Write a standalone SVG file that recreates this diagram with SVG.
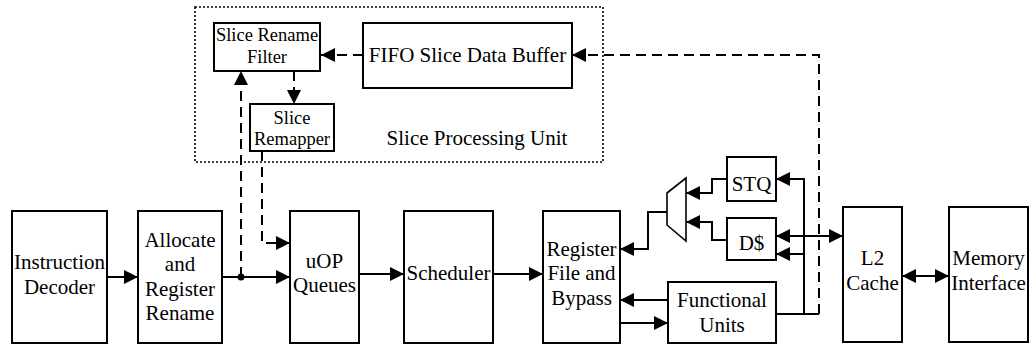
<svg xmlns="http://www.w3.org/2000/svg" width="1029" height="345" viewBox="0 0 1029 345">
<style>
  .box{fill:#fff;stroke:#000;stroke-width:2}
  .t{font-family:"Liberation Serif","Times New Roman",serif;font-size:21px;fill:#000;text-anchor:middle}
  .ts{font-size:18.5px}
  .c{fill:none;stroke:#000;stroke-width:2}
  .d{fill:none;stroke:#000;stroke-width:2;stroke-dasharray:10,6}
</style>
<defs>
  <marker id="ah" markerUnits="userSpaceOnUse" markerWidth="15" markerHeight="14" refX="14" refY="7" orient="auto-start-reverse" viewBox="0 0 15 14">
    <path d="M0,0 L14,7 L0,14 z" fill="#000"/>
  </marker>
</defs>
<g id="spu">
  <rect x="195" y="7" width="408" height="155" fill="none" stroke="#000" stroke-width="1.6" stroke-dasharray="2,2"/>
  <text class="t" x="477" y="145">Slice Processing Unit</text>
</g>
<g id="slice-rename-filter">
  <rect class="box" x="214" y="23" width="106" height="48"/>
  <text class="t ts" x="267" y="41">Slice Rename</text>
  <text class="t ts" x="267" y="63">Filter</text>
</g>
<g id="fifo">
  <rect class="box" x="363" y="23" width="209" height="65"/>
  <text class="t" x="467.5" y="62">FIFO Slice Data Buffer</text>
</g>
<g id="slice-remapper">
  <rect class="box" x="250" y="104" width="84" height="47"/>
  <text class="t ts" x="292" y="124">Slice</text>
  <text class="t ts" x="292" y="145">Remapper</text>
</g>
<g id="instruction-decoder">
  <rect class="box" x="12" y="211" width="95" height="132"/>
  <text class="t" x="59.5" y="269">Instruction</text>
  <text class="t" x="59.5" y="294">Decoder</text>
</g>
<g id="allocate">
  <rect class="box" x="138" y="211" width="84" height="132"/>
  <text class="t" x="180" y="247">Allocate</text>
  <text class="t" x="180" y="271">and</text>
  <text class="t" x="180" y="296">Register</text>
  <text class="t" x="180" y="320">Rename</text>
</g>
<g id="uop-queues">
  <rect class="box" x="290" y="211" width="69" height="132"/>
  <text class="t" x="324.5" y="268">uOP</text>
  <text class="t" x="324.5" y="292">Queues</text>
</g>
<g id="scheduler">
  <rect class="box" x="404" y="211" width="89" height="132"/>
  <text class="t" x="448.5" y="280">Scheduler</text>
</g>
<g id="register-file">
  <rect class="box" x="543" y="211" width="77" height="132"/>
  <text class="t" x="581.5" y="256">Register</text>
  <text class="t" x="581.5" y="280">File and</text>
  <text class="t" x="581.5" y="305">Bypass</text>
</g>
<g id="mux">
  <polygon points="667,193 686,178 686,241 667,225" fill="#fff" stroke="#000" stroke-width="1.6"/>
</g>
<g id="stq">
  <rect class="box" x="727" y="157" width="49" height="44"/>
  <text class="t" x="751.5" y="191">STQ</text>
</g>
<g id="dcache">
  <rect class="box" x="727" y="218" width="49" height="42"/>
  <text class="t" x="751.5" y="250">D$</text>
</g>
<g id="functional-units">
  <rect class="box" x="668" y="282" width="108" height="61"/>
  <text class="t" x="722" y="307">Functional</text>
  <text class="t" x="722" y="332">Units</text>
</g>
<g id="l2-cache">
  <rect class="box" x="843" y="207" width="59" height="135"/>
  <text class="t" x="872.5" y="265">L2</text>
  <text class="t" x="872.5" y="290">Cache</text>
</g>
<g id="memory-interface">
  <rect class="box" x="949" y="207" width="79" height="135"/>
  <text class="t" x="988.5" y="265">Memory</text>
  <text class="t" x="988.5" y="290">Interface</text>
</g>
<g id="connectors">
  <path class="c" d="M107,277 H138" marker-end="url(#ah)"/>
  <path class="c" d="M222,277 H290" marker-end="url(#ah)"/>
  <circle cx="241" cy="277" r="3.5" fill="#000"/>
  <path class="c" d="M359,274 H404" marker-end="url(#ah)"/>
  <path class="c" d="M493,274 H543" marker-end="url(#ah)"/>
  <path class="d" d="M241,277 V71" marker-end="url(#ah)"/>
  <path class="d" d="M294,71 V104" marker-end="url(#ah)"/>
  <path class="d" d="M262,151 V243 H290" marker-end="url(#ah)"/>
  <path class="d" d="M363,55 H321" marker-end="url(#ah)"/>
  <path class="d" d="M819,314 V55 H572" marker-end="url(#ah)"/>
  <path class="c" d="M727,179 H712 V193 H686" marker-end="url(#ah)"/>
  <path class="c" d="M727,240 H712 V222 H686" marker-end="url(#ah)"/>
  <path class="c" d="M667,212 H648 V249 H620" marker-end="url(#ah)"/>
  <path class="c" d="M668,300 H620" marker-end="url(#ah)"/>
  <path class="c" d="M620,323 H668" marker-end="url(#ah)"/>
  <path class="c" d="M776,314 H819"/>
  <path class="c" d="M804,314 V179 H776" marker-end="url(#ah)"/>
  <path class="c" d="M804,254 H776" marker-end="url(#ah)"/>
  <path class="c" d="M776,236 H843" marker-start="url(#ah)" marker-end="url(#ah)"/>
  <path class="c" d="M902,276 H949" marker-start="url(#ah)" marker-end="url(#ah)"/>
</g>
</svg>
